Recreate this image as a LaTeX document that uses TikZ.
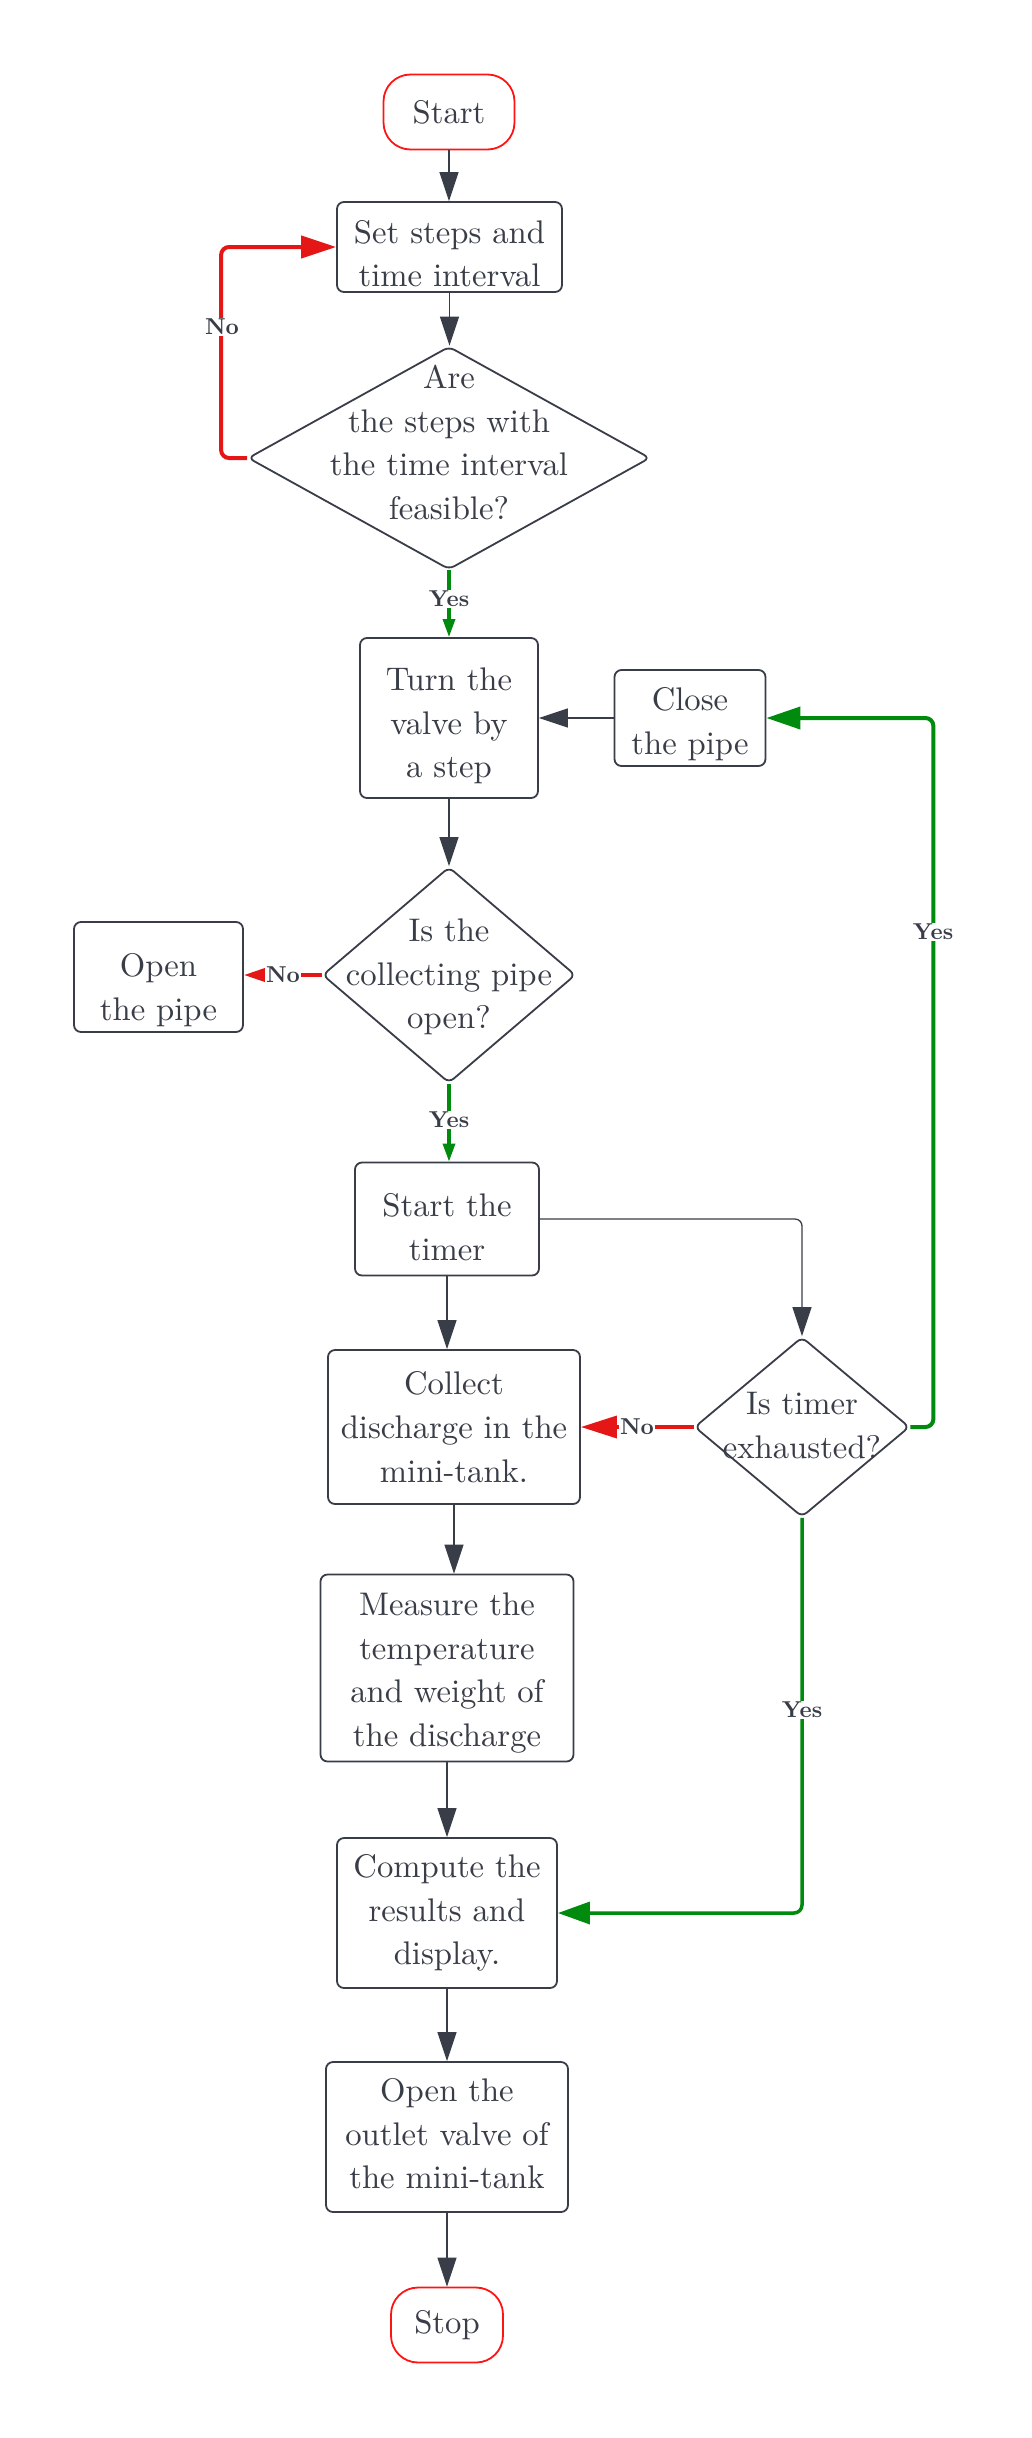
\documentclass[tikz,border=0pt]{standalone}
\usepackage{fontspec}
\setmainfont{lmroman10-regular.otf}[BoldFont=lmroman10-bold.otf]
\usetikzlibrary{arrows.meta,shapes.geometric}
\definecolor{ink}{HTML}{383D47}
\definecolor{redc}{HTML}{E41616}
\definecolor{termred}{HTML}{FF1414}
\definecolor{greenc}{HTML}{008A0E}
\tikzset{
  mainfont/.style={font=\fontsize{32.7}{43.6}\selectfont},
  box/.style={draw=ink, line width=1.8pt, rounded corners=7pt, fill=white, inner sep=0pt},
  btxt/.style={text=ink, align=center, inner sep=0pt, mainfont},
  term/.style={draw=termred, line width=1.8pt, rounded corners=27pt, fill=white, text=ink,
    align=center, inner sep=0pt, mainfont},
  dia/.style={draw=ink, shape=diamond, line width=1.8pt, rounded corners=6pt, fill=white,
    inner sep=0pt},
  conn/.style={draw=ink, line width=1.3pt, rounded corners=7pt,
    -{Triangle[length=29pt,width=19pt]}},
  redloop/.style={draw=redc, line width=4pt, rounded corners=8pt,
    -{Triangle[length=35pt,width=22pt]}},
  greenloop/.style={draw=greenc, line width=4pt, rounded corners=8pt,
    -{Triangle[length=34pt,width=22pt]}},
  rednoS/.style={draw=redc, line width=3.5pt, -{Triangle[length=21pt,width=13pt]}},
  rednoL/.style={draw=redc, line width=3.5pt, -{Triangle[length=36pt,width=22pt]}},
  greenyesS/.style={draw=greenc, line width=3.3pt, -{Triangle[length=18pt,width=12pt]}},
  greenyesL/.style={draw=greenc, line width=3.5pt, rounded corners=8pt,
    -{Triangle[length=32pt,width=22pt]}},
  lab/.style={fill=white, text=ink, inner sep=1.5pt, font=\fontsize{23}{26}\selectfont\bfseries},
}
\begin{document}
\begin{tikzpicture}[x=1pt,y=-1pt]
\fill[white] (0,0) rectangle (1031,2438);
\useasboundingbox (0,0) rectangle (1031,2438);

% shapes
\node[term, minimum width=131pt, minimum height=75pt] (start) at (449,112) {Start};
\node[box, minimum width=225pt, minimum height=90pt] (set) at (449.5,247) {};
\node[dia, minimum width=402pt, minimum height=223pt] (d1) at (449,458) {};
\node[box, minimum width=178pt, minimum height=160pt] (turn) at (449,718) {};
\node[box, minimum width=151pt, minimum height=96pt] (close) at (690,718) {};
\node[dia, minimum width=253pt, minimum height=216pt] (d2) at (449,975) {};
\node[box, minimum width=169pt, minimum height=110pt] (open) at (158.5,977) {};
\node[box, minimum width=184pt, minimum height=113pt] (timer) at (447,1219) {};
\node[box, minimum width=252pt, minimum height=154pt] (collect) at (454,1427) {};
\node[dia, minimum width=215pt, minimum height=180pt] (td) at (802,1427) {};
\node[box, minimum width=253pt, minimum height=187pt] (measure) at (447,1668) {};
\node[box, minimum width=220pt, minimum height=150pt] (compute) at (447,1913) {};
\node[box, minimum width=242pt, minimum height=150pt] (outlet) at (447,2137) {};
\node[term, minimum width=112pt, minimum height=75pt] (stop) at (447,2325) {Stop};

% texts
\node[btxt] (sett) at (449.5,253.6) {Set steps and\\time interval};
\node[btxt] (d1t) at (449,442.3) {Are\\the steps with\\the time interval\\feasible?};
\node[btxt] (turnt) at (449,726.1) {Turn the\\valve by\\a step};
\node[btxt] (closet) at (690,724.4) {Close\\the pipe};
\node[btxt] (d2t) at (449,977.1) {Is the\\collecting pipe\\open?};
\node[btxt] (opent) at (158.5,990.1) {Open\\the pipe};
\node[btxt] (timert) at (447,1227) {Start the\\timer};
\node[btxt] (collectt) at (454,1427.1) {Collect\\discharge in the\\mini-tank.};
\node[btxt] (tdt) at (802,1425.7) {Is timer\\exhausted?};
\node[btxt] (measuret) at (447,1672.8) {Measure the\\temperature\\and weight of\\the discharge};
\node[btxt] (computet) at (447,1913.2) {Compute the\\results and\\display.};
\node[btxt] (outlett) at (447,2133.8) {Open the\\outlet valve of\\the mini-tank};

% dark connectors
\draw[conn] (start.south) -- (start.south |- set.north);
\draw[conn] (set.south) -- (set.south |- d1.north);
\draw[conn] (turn.south) -- (turn.south |- d2.north);
\draw[conn] (close.west) -- (turn.east);
\draw[conn] (timer.south) -- (timer.south |- collect.north);
\draw[conn] (timer.east) -| (td.north);
\draw[conn] (collect.south) -- (collect.south |- measure.north);
\draw[conn] (measure.south) -- (measure.south |- compute.north);
\draw[conn] (compute.south) -- (compute.south |- outlet.north);
\draw[conn] (outlet.south) -- (outlet.south |- stop.north);

% red connectors
\draw[redloop] (d1.west) -- ++(-26,0) |- (set.west);
\node[lab] (l1) at (222,327) {No};
\draw[rednoS] (d2.west) -- (d2.west -| open.east);
\node[lab] (l3) at (283,975) {No};
\draw[rednoL] (td.west) -- (collect.east);
\node[lab] (l6) at (637,1427) {No};

% green connectors
\draw[greenyesS] (d1.south) -- (turn.north);
\node[lab] (l2) at (449,599) {Yes};
\draw[greenyesS] (d2.south) -- (d2.south |- timer.north);
\node[lab] (l4) at (449,1120) {Yes};
\draw[greenloop] (td.east) -- ++(23,0) |- (close.east);
\node[lab] (l5) at (933,932) {Yes};
\draw[greenyesL] (td.south) |- (compute.east);
\node[lab] (l7) at (802,1710) {Yes};
\end{tikzpicture}
\end{document}
